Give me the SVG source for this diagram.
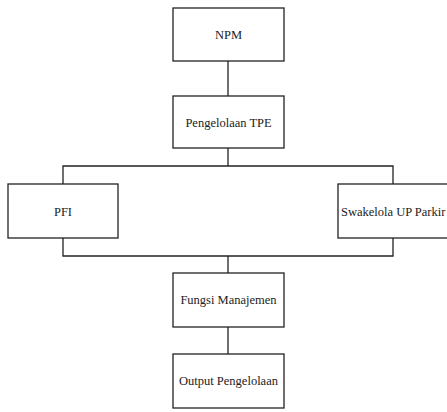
<svg xmlns="http://www.w3.org/2000/svg" width="447" height="412" viewBox="0 0 447 412">
<style>
.box{fill:#fff;stroke:#222;stroke-width:1.3}
.ln{fill:none;stroke:#222;stroke-width:1.3}
.c{text-anchor:middle}
</style>
<rect width="447" height="412" fill="#fff"/>
<g id="connectors">
<line class="ln" x1="228" y1="61" x2="228" y2="96"/>
<line class="ln" x1="228" y1="148" x2="228" y2="166"/>
<polyline class="ln" points="63,184 63,166 393,166 393,184"/>
<polyline class="ln" points="63,238 63,256 393,256 393,238"/>
<line class="ln" x1="228" y1="256" x2="228" y2="273"/>
<line class="ln" x1="228" y1="327" x2="228" y2="354"/>
</g>
<g font-size="12.5" fill="#222" font-family="Liberation Serif, Times New Roman, serif">
<g id="npm"><rect class="box" x="173" y="8" width="111" height="53"/><text class="c" x="228.5" y="39">NPM</text></g>
<g id="tpe"><rect class="box" x="173" y="96" width="111" height="52"/><text class="c" x="228.5" y="126.5">Pengelolaan TPE</text></g>
<g id="pfi"><rect class="box" x="8" y="184" width="110" height="54"/><text class="c" x="63" y="215.5">PFI</text></g>
<g id="swakelola"><rect class="box" x="338" y="184" width="112" height="54"/><text x="341" y="215.5">Swakelola UP Parkir</text></g>
<g id="fungsi"><rect class="box" x="173" y="273" width="111" height="54"/><text class="c" x="228.5" y="304">Fungsi Manajemen</text></g>
<g id="output"><rect class="box" x="173" y="354" width="111" height="54"/><text class="c" x="228.5" y="385">Output Pengelolaan</text></g>
</g>
</svg>
